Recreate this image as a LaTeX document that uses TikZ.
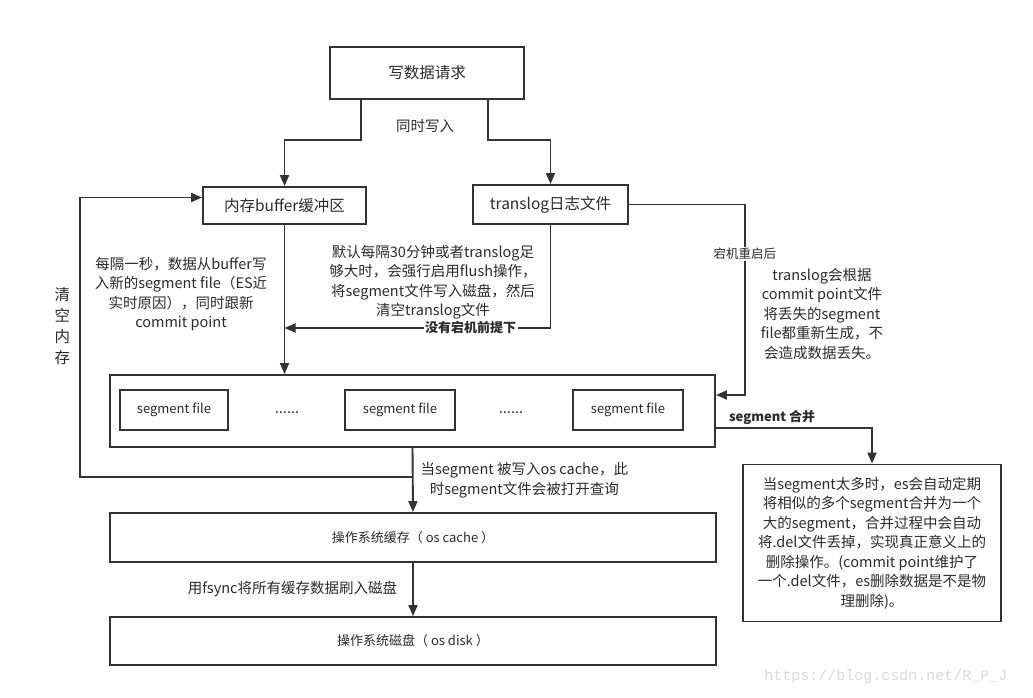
\documentclass[tikz,border=0pt]{standalone}
\usepackage{fontspec}
\setmainfont{Noto Sans CJK SC}
\setmonofont{Liberation Mono}
\usetikzlibrary{positioning,arrows.meta,calc}
\definecolor{cLine}{HTML}{333333}
\definecolor{cText}{HTML}{2B2B2B}
\definecolor{cMark}{HTML}{DADADA}
\tikzset{
  blk/.style={draw=cLine, line width=1.9pt, fill=white, inner sep=0pt,
              text=cText, align=center},
  head/.style={blk, font=\fontsize{15.5}{18}\selectfont},
  plain/.style={blk, font=\fontsize{13}{15}\selectfont},
  note/.style={text=cText, align=center, inner sep=1pt,
               font=\fontsize{14.5}{19.5}\selectfont},
  ar/.style={-{Triangle[length=11pt,width=9pt]}, line width=1.9pt, draw=cLine},
  lbl/.style={text=cText, inner sep=1.5pt, fill=white,
              font=\fontsize{12.5}{14}\selectfont},
  lblb/.style={lbl, font=\fontsize{13}{15}\selectfont\bfseries},
}

\begin{document}
\begin{tikzpicture}[x=1pt,y=-1pt]
  \useasboundingbox[fill=white] (0,0) rectangle (1033,698);
  \node[head, minimum width=194pt, minimum height=52pt] (req) at (427,73) {写数据请求};
  \node[head, minimum width=163pt, minimum height=37pt] (buffer) at (284.5,205.5) {内存buffer缓冲区};
  \node[head, minimum width=155pt, minimum height=39pt] (translog) at (550.5,204.5) {translog日志文件};
  \node[blk, minimum width=605pt, minimum height=72pt] (segs) at (412.5,411) {};
  \node[plain, minimum width=108pt, minimum height=40pt] (seg1) at (174,410) {segment file};
  \node[plain, minimum width=110pt, minimum height=40pt] (seg2) at (400,410) {segment file};
  \node[plain, minimum width=110pt, minimum height=40pt] (seg3) at (628,410) {segment file};
  \node[note] (dots1) at (287,413) {......};
  \node[note] (dots2) at (511,413) {......};
  \node[plain, minimum width=606pt, minimum height=49pt] (oscache) at (413,537.5) {操作系统缓存（ os cache ）};
  \node[plain, minimum width=606pt, minimum height=48pt] (osdisk) at (413,641) {操作系统磁盘（ os disk ）};
  \node[note, draw=cLine, line width=1.9pt, minimum width=258pt, minimum height=157pt] (merge) at (872,543)
    {当segment太多时，es会自动定期\\将相似的多个segment合并为一个\\大的segment，合并过程中会自动\\将.del文件丢掉，实现真正意义上的\\删除操作。(commit point维护了\\一个.del文件，es删除数据是不是物\\理删除)。};

  \node[note] (bufnote) at (181,294) {每隔一秒，数据从buffer写\\入新的segment file（ES近\\实时原因），同时跟新\\commit point};
  \node[note] (flushnote) at (433,282) {默认每隔30分钟或者translog足\\够大时，会强行启用flush操作，\\将segment文件写入磁盘，然后\\清空translog文件};
  \node[note] (recnote) at (822,314) {translog会根据\\commit point文件\\将丢失的segment\\file都重新生成，不\\会造成数据丢失。};

  \draw[ar] ([xshift=32pt]req.south west) -- ++(0,40) -| (buffer.north);
  \draw[ar] ([xshift=-37pt]req.south east) -- ++(0,40) -| (translog.north);
  \node[note] (both) at (425,126) {同时写入};
  \draw[ar] (buffer.south) -- (buffer.south |- segs.north);
  \coordinate (flushy) at (0,328);
  \draw[ar] (translog.south) |- (buffer.south |- flushy)
    node[lblb, pos=0.65] {没有宕机前提下};
  \draw[ar] (translog.east) -| ($([yshift=16pt]segs.east)+(29,0)$)
    node[lbl, pos=0.63] {宕机重启后} -- ([yshift=16pt]segs.east);
  \draw[ar] ([yshift=-17pt]segs.east) -| (merge.north)
    node[lblb, pos=0.18, above=1pt, fill=none] {segment 合并};
  \draw[ar] (segs.south) -- (oscache.north)
    node[note, midway, right=6pt] {当segment 被写入os cache，此\\时segment文件会被打开查询};
  \coordinate (clr) at (80,477);
  \draw[ar] (segs.south |- clr) -- (clr) |- ([yshift=8pt]buffer.west)
    node[note, pos=0.27, left=8pt, font=\fontsize{15.5}{21}\selectfont] {清\\空\\内\\存};
  \draw[ar] (oscache.south) -- (osdisk.north)
    node[note, midway, left=14pt] {用fsync将所有缓存数据刷入磁盘};
  \node[text=cMark, font=\ttfamily\fontsize{15}{17}\selectfont] (mark) at (886,677) {https://blog.csdn.net/R\_P\_J};
\end{tikzpicture}
\end{document}
